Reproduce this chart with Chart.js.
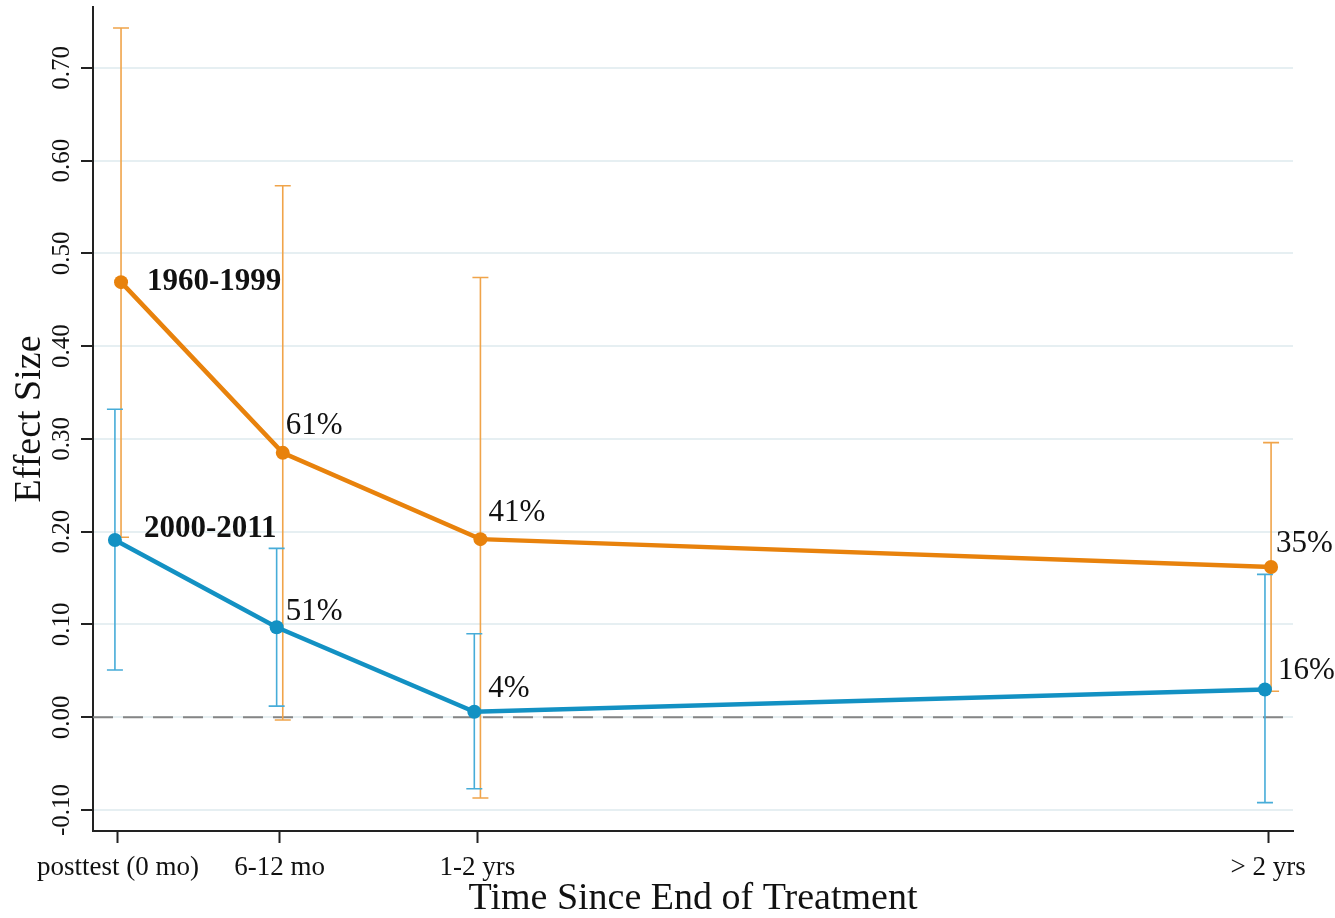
<!DOCTYPE html>
<html>
<head>
<meta charset="utf-8">
<script src="https://cdn.jsdelivr.net/npm/chart.js@4.4.0/dist/chart.umd.min.js"></script>
<style>
  html, body { margin: 0; padding: 0; background: #fff; }
  #wrap { width: 1335px; height: 918px; position: relative; }
</style>
</head>
<body>
<div id="wrap"><canvas id="chart"></canvas></div>
<script>
const timeLabels = ['posttest (0 mo)', '6-12 mo', '1-2 yrs', '> 2 yrs'];
const timePos = [0, 9, 20, 64];
const yTicks = [-0.1, 0, 0.1, 0.2, 0.3, 0.4, 0.5, 0.6, 0.7];

// 1960-1999 studies
const oldEffect = [0.469, 0.285, 0.192, 0.162];
const oldLow = [0.194, -0.003, -0.087, 0.028];
const oldHigh = [0.743, 0.573, 0.474, 0.296];
const oldPct = ['1960-1999', '61%', '41%', '35%'];

// 2000-2011 studies
const newEffect = [0.191, 0.097, 0.006, 0.030];
const newLow = [0.051, 0.012, -0.077, -0.092];
const newHigh = [0.332, 0.182, 0.090, 0.154];
const newPct = ['2000-2011', '51%', '4%', '16%'];

const jitter = 0.17; // the two series are nudged apart a little on x

const ORANGE = '#e8820c', ORANGE_CI = '#f0a44a';
const BLUE = '#1391c3', BLUE_CI = '#47acd8';
const SERIF = '"Liberation Serif", "DejaVu Serif", serif';

function pts(vals, dx) {
    return vals.map((v, i) => ({ x: timePos[i] + dx, y: v }));
}

const series = [
    { eff: oldEffect, lo: oldLow, hi: oldHigh, txt: oldPct, dx: jitter, color: ORANGE, ci: ORANGE_CI,
      off: [[26, 0], [3, -27], [8, -26], [5, -23]] },
    { eff: newEffect, lo: newLow, hi: newHigh, txt: newPct, dx: -jitter, color: BLUE, ci: BLUE_CI,
      off: [[29, -11], [9, -15], [14, -23], [13, -19]] }
];

const extras = {
    id: 'extras',
    beforeDatasetsDraw(chart) {
        const { ctx, chartArea: a, scales: { x, y } } = chart;
        ctx.save();
        // dashed zero reference line
        ctx.strokeStyle = '#858585';
        ctx.lineWidth = 2;
        ctx.setLineDash([20, 10]);
        ctx.beginPath();
        ctx.moveTo(a.left, y.getPixelForValue(0));
        ctx.lineTo(a.right, y.getPixelForValue(0));
        ctx.stroke();
        ctx.setLineDash([]);
        // confidence intervals
        series.forEach(s => {
            ctx.strokeStyle = s.ci;
            ctx.lineWidth = 1.6;
            s.eff.forEach((v, i) => {
                const px = x.getPixelForValue(timePos[i] + s.dx);
                const y1 = y.getPixelForValue(s.lo[i]);
                const y2 = y.getPixelForValue(s.hi[i]);
                ctx.beginPath();
                ctx.moveTo(px, y1); ctx.lineTo(px, y2);
                ctx.moveTo(px - 8, y1); ctx.lineTo(px + 8, y1);
                ctx.moveTo(px - 8, y2); ctx.lineTo(px + 8, y2);
                ctx.stroke();
            });
        });
        ctx.restore();
    },
    afterDraw(chart) {
        const { ctx, scales: { x, y } } = chart;
        ctx.save();
        // rotated y tick labels
        ctx.fillStyle = '#111';
        ctx.font = '25px ' + SERIF;
        ctx.textAlign = 'center';
        ctx.textBaseline = 'middle';
        yTicks.forEach(v => {
            ctx.save();
            ctx.translate(62, y.getPixelForValue(v));
            ctx.rotate(-Math.PI / 2);
            ctx.fillText(v.toFixed(2), 0, 0);
            ctx.restore();
        });
        // series names and percentage labels
        ctx.textAlign = 'left';
        series.forEach(s => {
            s.eff.forEach((v, i) => {
                const px = x.getPixelForValue(timePos[i] + s.dx);
                const py = y.getPixelForValue(v);
                ctx.font = (i === 0 ? 'bold 31px ' : '31px ') + SERIF;
                ctx.fillText(s.txt[i], px + s.off[i][0], py + s.off[i][1]);
            });
        });
        ctx.restore();
    }
};

new Chart(document.getElementById('chart'), {
    type: 'scatter',
    data: {
        datasets: series.map(s => ({
            data: pts(s.eff, s.dx),
            showLine: true,
            borderColor: s.color,
            backgroundColor: s.color,
            borderWidth: 4.5,
            pointRadius: 7,
            pointHoverRadius: 7,
            pointBorderWidth: 0
        }))
    },
    options: {
        responsive: true,
        maintainAspectRatio: false,
        animation: false,
        layout: { padding: { top: 5, right: 42, left: 0, bottom: 0 } },
        plugins: { legend: { display: false }, tooltip: { enabled: false } },
        scales: {
            x: {
                type: 'linear',
                min: -1.39,
                max: 65.39,
                afterBuildTicks: s => { s.ticks = timePos.map(v => ({ value: v })); },
                afterFit: s => { s.height = 87; },
                ticks: {
                    autoSkip: false,
                    maxRotation: 0,
                    padding: 9,
                    color: '#111',
                    font: { family: SERIF, size: 27 },
                    callback: (v, i) => timeLabels[i]
                },
                grid: { drawOnChartArea: false, tickLength: 12, tickColor: '#222', tickWidth: 2 },
                border: { display: true, color: '#222', width: 2 },
                title: {
                    display: true,
                    text: 'Time Since End of Treatment',
                    color: '#111',
                    font: { family: SERIF, size: 38, lineHeight: 1 },
                    padding: { top: 0, bottom: 0 }
                }
            },
            y: {
                min: -0.1226,
                max: 0.7656,
                afterBuildTicks: s => { s.ticks = yTicks.map(v => ({ value: v })); },
                afterFit: s => { s.width = 93; },
                ticks: { display: false },
                grid: { color: '#e6eff2', lineWidth: 2, tickLength: 12, tickColor: '#222', tickWidth: 2 },
                border: { display: true, color: '#222', width: 2 },
                title: {
                    display: true,
                    text: 'Effect Size',
                    color: '#111',
                    font: { family: SERIF, size: 38, lineHeight: 1 },
                    padding: { top: 11, bottom: 0 }
                }
            }
        }
    },
    plugins: [extras]
});
</script>
</body>
</html>
